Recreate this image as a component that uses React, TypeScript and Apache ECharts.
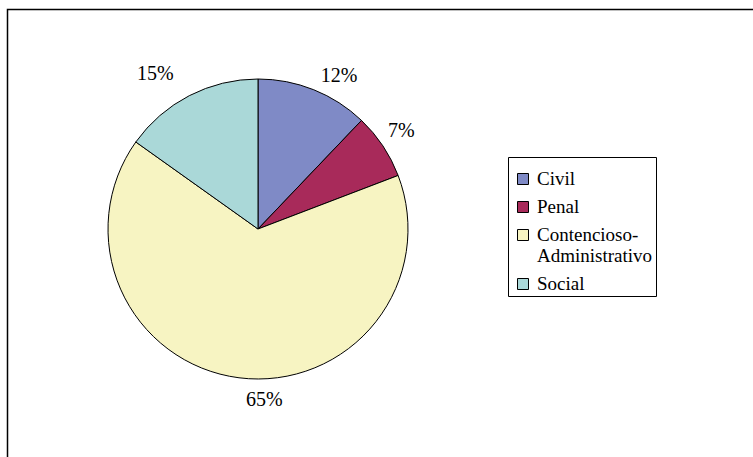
import React, { useEffect, useRef } from "react";
import * as echarts from "echarts";

const categories = ["Civil", "Penal", "Contencioso-Administrativo", "Social"];
const legendLabels = ["Civil", "Penal", "Contencioso-\nAdministrativo", "Social"];
const values = [12, 7, 65, 15];
const colors = ["#7F8AC6", "#A82A5A", "#F7F4C2", "#AAD8D8"];

// layout (not data): pie geometry and label nudges
const CX = 258;
const CY = 229;
const R = 150;
const LABEL_NUDGE: [number, number][] = [
  [16, 9],
  [-3, -2],
  [28, 0],
  [-22, 1],
];
const SERIF = "Liberation Serif";

export default function App() {
  const ref = useRef<HTMLDivElement>(null);
  useEffect(() => {
    if (!ref.current) return;
    document.body.style.margin = "0";
    const chart = echarts.init(ref.current, undefined, { renderer: "svg" });
    const total = values.reduce((a, b) => a + b, 0);
    const midAngles: number[] = [];
    let acc = 0;
    values.forEach((v) => {
      midAngles.push(((acc + v / 2) / total) * Math.PI * 2);
      acc += v;
    });

    const lgX = 508.5;
    const lgY = 157.5;
    const lineH = 21;
    const legendChildren: any[] = [
      {
        type: "rect",
        shape: { x: lgX, y: lgY, width: 148, height: 139 },
        style: { fill: "#fff", stroke: "#000", lineWidth: 1 },
      },
    ];
    let yCursor = 167.5;
    legendLabels.forEach((lab, i) => {
      const nLines = lab.split("\n").length;
      legendChildren.push({
        type: "rect",
        shape: { x: 517.5, y: Math.round(yCursor + 5) + 0.5, width: 11, height: 11 },
        style: { fill: colors[i], stroke: "#000", lineWidth: 1 },
      });
      legendChildren.push({
        type: "text",
        x: 537,
        y: yCursor,
        style: {
          text: lab,
          fontFamily: SERIF,
          fontSize: 19,
          lineHeight: lineH,
          fill: "#000",
          verticalAlign: "top",
        },
      });
      yCursor += nLines * lineH + 7;
    });

    chart.setOption({
      animation: false,
      backgroundColor: "#fff",
      graphic: [
        {
          type: "rect",
          z: -10,
          shape: { x: 7.5, y: 9.5, width: 900, height: 600 },
          style: { fill: "#fff", stroke: "#000", lineWidth: 1.5 },
        },
        { type: "group", children: legendChildren },
      ],
      series: [
        {
          type: "pie",
          center: [CX, CY],
          radius: R,
          startAngle: 90,
          clockwise: true,
          avoidLabelOverlap: false,
          itemStyle: { borderColor: "#000", borderWidth: 1 },
          emphasis: { disabled: true },
          label: {
            show: true,
            position: "outside",
            formatter: (p: any) => `${p.value}%`,
            fontFamily: SERIF,
            fontSize: 20,
            color: "#000",
          },
          labelLine: { show: false, length: 10, length2: 0 },
          labelLayout: (params: any) => {
            const i = params.dataIndex;
            const a = midAngles[i];
            const ux = Math.sin(a);
            const uy = -Math.cos(a);
            const hw = params.labelRect.width / 2;
            const hh = params.labelRect.height / 2;
            const d = R + 9 + hw * Math.abs(ux) + hh * Math.abs(uy);
            return {
              x: CX + ux * d + LABEL_NUDGE[i][0],
              y: CY + uy * d + LABEL_NUDGE[i][1],
              align: "center",
              verticalAlign: "middle",
            };
          },
          data: categories.map((c, i) => ({
            name: c,
            value: values[i],
            itemStyle: { color: colors[i] },
          })),
        },
      ],
    });
    return () => chart.dispose();
  }, []);
  return (
    <div
      ref={ref}
      style={{ position: "fixed", left: 0, top: 0, width: 753, height: 457 }}
    />
  );
}
